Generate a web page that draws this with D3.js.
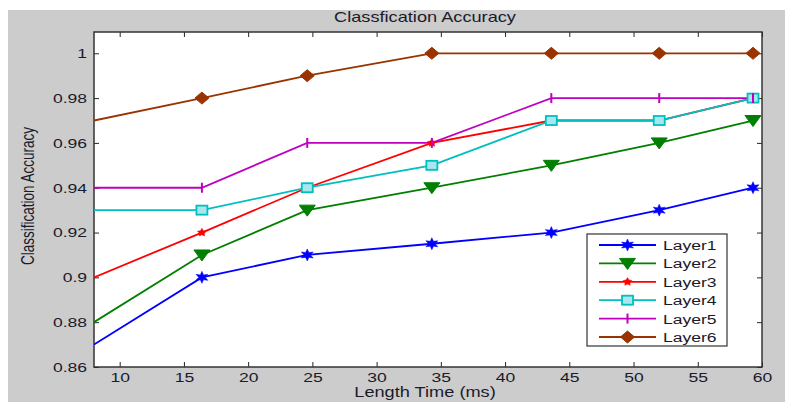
<!DOCTYPE html>
<html><head><meta charset="utf-8">
<script src="https://cdn.jsdelivr.net/npm/d3@7"></script>
<style>body{margin:0;background:#fff}svg{display:block}text{font-family:"Liberation Sans",Arial,sans-serif;fill:#1a1a2a}</style>
</head><body>
<svg id="c" width="785" height="402"></svg>
<script>
const xValues = [8, 16.4, 24.6, 34.3, 43.6, 52, 59.3];
const seriesNames = ["Layer1","Layer2","Layer3","Layer4","Layer5","Layer6"];
const layer1 = [0.87, 0.90, 0.91, 0.915, 0.92, 0.93, 0.94];
const layer2 = [0.88, 0.91, 0.93, 0.94, 0.95, 0.96, 0.97];
const layer3 = [0.90, 0.92, 0.94, 0.96, 0.97, 0.97, 0.98];
const layer4 = [0.93, 0.93, 0.94, 0.95, 0.97, 0.97, 0.98];
const layer5 = [0.94, 0.94, 0.96, 0.96, 0.98, 0.98, 0.98];
const layer6 = [0.97, 0.98, 0.99, 1.00, 1.00, 1.00, 1.00];
const xTicks = [10,15,20,25,30,35,40,45,50,55,60];
const yTicks = [0.86,0.88,0.9,0.92,0.94,0.96,0.98,1];
const colors = ["#0000ff","#007f00","#ff0000","#00bfbf","#bf00bf","#993300"];
const markers = ["star","tri","dot","square","vbar","diamond"];
const allSeries = [layer1,layer2,layer3,layer4,layer5,layer6];
const SX = 1.3; // horizontal text stretch seen in the reference

const svg = d3.select("#c");
svg.append("rect").attr("x",8).attr("y",10).attr("width",777).attr("height",392).attr("fill","#cccccc");
const L=94, R=762, T=32, B=367;
const x = d3.scaleLinear().domain([8,60]).range([L,R]);
const y = d3.scaleLinear().domain([0.86,1.0095]).range([B,T]);
svg.append("rect").attr("x",L).attr("y",T).attr("width",R-L).attr("height",B-T).attr("fill","#fff");

svg.append("defs").append("clipPath").attr("id","clip").append("rect").attr("x",L).attr("y",T).attr("width",R-L).attr("height",B-T);

const tk = 5;
const xb = svg.append("g").attr("transform",`translate(0,${B})`).call(d3.axisBottom(x).tickValues(xTicks).tickSize(-tk).tickPadding(5).tickFormat(d3.format("d")));
const xt = svg.append("g").attr("transform",`translate(0,${T})`).call(d3.axisTop(x).tickValues(xTicks).tickSize(-tk).tickFormat(""));
const yl = svg.append("g").attr("transform",`translate(${L},0)`).call(d3.axisLeft(y).tickValues(yTicks).tickSize(-tk).tickFormat(d=>String(+d.toFixed(2))));
const yr = svg.append("g").attr("transform",`translate(${R},0)`).call(d3.axisRight(y).tickValues(yTicks).tickSize(-tk).tickFormat(""));
[xb,xt,yl,yr].forEach(g=>{g.select(".domain").remove();g.selectAll("line").attr("stroke","#262626");g.selectAll("text").attr("font-size",13.5).attr("fill","#1a1a2a").attr("font-family","'Liberation Sans',Arial,sans-serif").attr("transform",`scale(${SX},1)`);});
xb.selectAll("text").attr("dy","0.71em");
yl.selectAll("text").attr("x",-7/SX);
svg.append("rect").attr("x",L).attr("y",T).attr("width",R-L).attr("height",B-T).attr("fill","none").attr("stroke","#333").attr("stroke-width",1.5);

function drawMarker(g, type, cx, cy, col){
  if(type==="star"){
    const pts=[];for(let i=0;i<12;i++){const r=i%2?2.8:6;const a=-Math.PI/2+i*Math.PI/6;pts.push([cx+1.15*r*Math.cos(a),cy+r*Math.sin(a)]);}
    g.append("polygon").attr("points",pts.map(p=>p.join(",")).join(" ")).attr("fill",col).attr("stroke",col).attr("stroke-width",0.5);
  } else if(type==="tri"){
    g.append("polygon").attr("points",`${cx-8},${cy-5} ${cx+8},${cy-5} ${cx},${cy+6}`).attr("fill",col).attr("stroke",col);
  } else if(type==="dot"){
    const pts=[];for(let i=0;i<10;i++){const r=i%2?2.3:4.2;const a=-Math.PI/2+i*Math.PI/5;pts.push([cx+1.1*r*Math.cos(a),cy+r*Math.sin(a)]);}
    g.append("polygon").attr("points",pts.map(p=>p.join(",")).join(" ")).attr("fill",col).attr("stroke",col).attr("stroke-width",0.5);
  } else if(type==="square"){
    g.append("rect").attr("x",cx-5.5).attr("y",cy-4.5).attr("width",11).attr("height",9).attr("fill","#a8e6f0").attr("stroke",col).attr("stroke-width",1.8);
  } else if(type==="vbar"){
    g.append("line").attr("x1",cx).attr("x2",cx).attr("y1",cy-5).attr("y2",cy+5).attr("stroke",col).attr("stroke-width",2);
  } else if(type==="diamond"){
    g.append("polygon").attr("points",`${cx},${cy-6} ${cx+7},${cy} ${cx},${cy+6} ${cx-7},${cy}`).attr("fill",col).attr("stroke",col);
  }
}

const line = d3.line().x((d,i)=>x(xValues[i])).y(d=>y(d));
const plot = svg.append("g").attr("clip-path","url(#clip)");
allSeries.forEach((s,k)=>{
  plot.append("path").datum(s).attr("d",line).attr("fill","none").attr("stroke",colors[k]).attr("stroke-width",1.8);
  const mg = svg.append("g");
  s.forEach((v,i)=>{ if(i>0) drawMarker(mg, markers[k], x(xValues[i]), y(v), colors[k]); });
});

function stext(px, py, str, size, anchor){
  return svg.append("text").attr("transform",`translate(${px},${py}) scale(${SX},1)`).attr("text-anchor",anchor||"start").attr("font-size",size).text(str);
}

// legend
svg.append("rect").attr("x",587).attr("y",234).attr("width",140).attr("height",112).attr("fill","#fff").attr("stroke","#333").attr("stroke-width",1.2);
const lg = svg.append("g");
seriesNames.forEach((n,k)=>{
  const ly = 245 + k*18.4;
  lg.append("line").attr("x1",599).attr("x2",656).attr("y1",ly).attr("y2",ly).attr("stroke",colors[k]).attr("stroke-width",1.8);
  drawMarker(lg, markers[k], 627.5, ly, colors[k]);
  stext(663, ly+5, n, 13.5);
});

stext(425, 22, "Classfication Accuracy", 14, "middle");
stext(425, 397, "Length Time (ms)", 14, "middle");
svg.append("text").attr("transform",`translate(34,196) scale(${SX},1) rotate(-90)`).attr("text-anchor","middle").attr("font-size",13.5).text("Classification Accuracy");
</script>
</body></html>
